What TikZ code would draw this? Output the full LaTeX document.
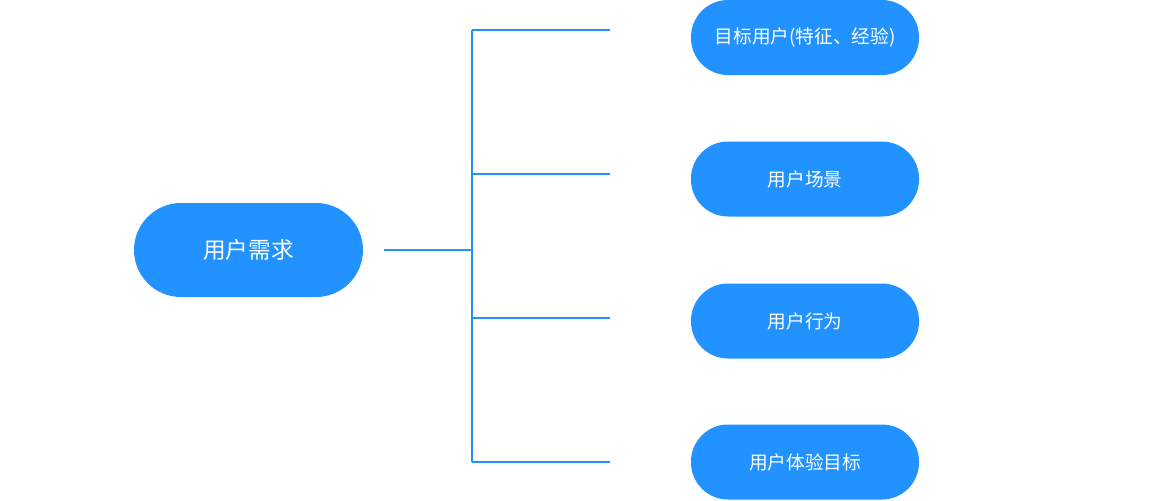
\documentclass[tikz,border=0pt]{standalone}
\usepackage{fontspec}
\setmainfont{Noto Sans CJK SC}
\usetikzlibrary{positioning}
\definecolor{nodeblue}{HTML}{2192FF}
\tikzset{
  mainbox/.style={fill=nodeblue, rounded corners=47\unit, minimum width=229\unit, minimum height=94\unit, text=white, font=\fontsize{17}{20}\selectfont, inner sep=0pt},
  subbox/.style={fill=nodeblue, rounded corners=37\unit, minimum width=228\unit, minimum height=75\unit, text=white, font=\fontsize{14}{17}\selectfont, inner sep=0pt},
  branch/.style={draw=nodeblue, line width=0.9pt}
}
\newcommand{\unit}{pt*0.75}
\begin{document}
\begin{tikzpicture}[x=0.75pt, y=-0.75pt]
  \useasboundingbox (0,0) rectangle (1151,500);

  \node [mainbox] (need) at (248.5,250) {用户需求};
  \node [subbox] (target) at (805,37.5) {目标用户(特征、经验)};
  \node [subbox] (scene) at (805,179) {用户场景};
  \node [subbox] (action) at (805,321) {用户行为};
  \node [subbox] (goal) at (805,462) {用户体验目标};

  \coordinate (start) at (384,250);
  \coordinate (mid) at (472,250);
  \coordinate (top) at (472,30);
  \coordinate (bottom) at (472,462);
  \draw [branch] (start) -- (mid);
  \draw [branch] (top) -- (bottom);
  % free-ended branches
  \foreach \yy in {30,174,318,462}
    \draw [branch] (472,\yy) -- (610,\yy);
\end{tikzpicture}
\end{document}
